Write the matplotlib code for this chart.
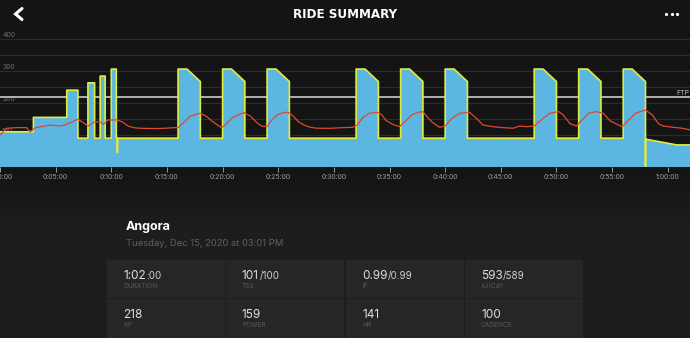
import numpy as np
import matplotlib
matplotlib.use('Agg')
import matplotlib.pyplot as plt
from matplotlib.lines import Line2D
from matplotlib.patches import Rectangle
from matplotlib.text import Annotation

plt.rcParams['font.family'] = ['Inter', 'DejaVu Sans']

# power trace: minutes / watts
power_t = [0, 3, 3, 6, 6, 7, 7, 7.9, 7.9, 8.5, 8.5, 9.0, 9.0, 9.45, 9.45, 10.0, 10.0, 10.45,
           10.45, 10.55, 10.55, 10.55, 16, 16, 16.8, 18, 18, 20, 20, 20.8, 22, 22, 24, 24,
           24.8, 26, 26, 32, 32, 32.8, 34, 34, 36, 36, 36.8, 38, 38, 40, 40, 40.8, 42, 42,
           48, 48, 48.8, 50, 50, 52, 52, 52.8, 54, 54, 56, 56, 56.8, 58, 58, 58, 60.8, 62]
power_w = [110, 110, 155, 155, 240, 240, 90, 90, 263, 263, 90, 90, 284, 284, 90, 90, 306, 306,
           90, 90, 45, 90, 90, 306, 306, 267, 90, 90, 306, 306, 267, 90, 90, 306,
           306, 267, 90, 90, 306, 306, 267, 90, 90, 306, 306, 267, 90, 90, 306, 306, 267, 90,
           90, 306, 306, 267, 90, 90, 306, 306, 267, 90, 90, 306, 306, 267, 0, 87, 69, 69]

# heart rate trace
hr_t = [0, 0.6, 1.5, 2.4, 2.7, 3.2, 4.5, 5.4, 5.8, 7.0, 7.6, 7.9, 8.5, 9.0, 9.3, 9.7, 10.5,
        11.0, 11.5, 12.0, 12.6, 13.9, 14.8, 15.7, 16.0, 16.6, 17.1, 18.0, 18.6, 19.1, 19.9,
        20.2, 20.9, 21.9, 22.5, 23.1, 23.5, 24.0, 24.3, 24.9, 25.5, 25.9, 26.4, 26.8, 27.3,
        27.9, 28.5, 29.7, 30.8, 31.7, 32.1, 32.6, 33.2, 33.9, 34.3, 34.7, 35.3, 35.9, 36.4,
        37.0, 37.6, 38.0, 38.5, 38.9, 39.5, 40.0, 40.6, 41.3, 42.2, 42.8, 43.4, 44.3, 45.2,
        46.1, 46.7, 47.3, 48.0, 48.7, 49.4, 50.2, 50.6, 51.2, 51.8, 52.3, 52.9, 53.6, 54.2,
        54.8, 55.4, 55.9, 56.5, 57.1, 58.0, 58.6, 59.2, 59.6, 60.5, 61.3, 62.0]
hr_bpm = [100, 121, 123, 123, 110, 123, 131, 128, 131, 149, 136, 128, 141, 141, 133, 147, 147,
          141, 128, 123, 121, 120, 121, 123, 123, 142, 159, 168, 157, 142, 123,
          130, 155, 170, 159, 138, 128, 126, 142, 163, 170, 171, 157, 142, 131,
          124, 121, 121, 123, 124, 131, 155, 168, 171, 163, 145, 133, 126, 142,
          163, 171, 173, 152, 138, 124, 128, 152, 168, 171, 152, 131, 126, 123,
          121, 128, 126, 128, 149, 168, 173, 163, 136, 128, 147, 168, 173, 168,
          145, 134, 126, 147, 168, 178, 163, 134, 128, 124, 121, 116]

ftp = 220
grid_w = [50, 100, 150, 200, 250, 300, 350, 400]
ylab_w = [100, 200, 300, 400]
xtick_min = [0, 5, 10, 15, 20, 25, 30, 35, 40, 45, 50, 55, 60]
xtick_lbl = ['0:00:00', '0:05:00', '0:10:00', '0:15:00', '0:20:00', '0:25:00', '0:30:00',
             '0:35:00', '0:40:00', '0:45:00', '0:50:00', '0:55:00', '1:00:00']

ride_name = 'Angora'
ride_date = 'Tuesday, Dec 15, 2020 at 03:01 PM'
stat_main = [['1:02', '101', '0.99', '593'], ['218', '159', '141', '100']]
stat_sub = [[':00', '/100', '/0.99', '/589'], ['', '', '', '']]
stat_lbl = [['DURATION', 'TSS', 'IF', 'kJ(Cal)'], ['NP', 'POWER', 'HR', 'CADENCE']]

W, H = 690, 338
fig = plt.figure(figsize=(W / 100, H / 100), dpi=100)
fig.patch.set_facecolor('#1c1c1c')

def fx(x):
    return x / W

def fy(y):
    return 1 - y / H

# background: dark top fading into the lighter lower panel
bg = fig.add_axes([0, 0, 1, 1], zorder=-10)
rows = np.arange(H)
shade = np.clip((rows - 168) / 60.0, 0, 1)
top = np.array([0x14, 0x14, 0x14]) / 255
bot = np.array([0x1d, 0x1d, 0x1d]) / 255
grad = top[None, :] * (1 - shade[:, None]) + bot[None, :] * shade[:, None]
bg.imshow(grad[:, None, :], extent=[0, 1, 0, 1], aspect='auto')
bg.axis('off')

# header
fig.add_artist(Line2D([fx(22), fx(15.5), fx(22)], [fy(8.5), fy(14), fy(19.5)],
                      color='white', lw=2.2, solid_capstyle='round', solid_joinstyle='miter'))
fig.text(fx(345), fy(14), 'RIDE SUMMARY', ha='center', va='center', color='white',
         fontsize=9.5, fontweight='bold', fontstretch='condensed',
         family=['Liberation Sans Narrow', 'DejaVu Sans'])
fig.add_artist(Line2D([fx(666), fx(671.5), fx(677)], [fy(14)] * 3, ls='none', marker='o',
                      ms=2.3, color='white', mec='none'))

# chart
ax = fig.add_axes([0, 1 - 167 / H, 1, (167 - 30) / H])
ax.set_facecolor('none')
ax.set_xlim(0, 62)
ax.set_ylim(0, 428)
for g in grid_w:
    ax.axhline(g, color='#2b2b2b', lw=0.8, zorder=1)
for v in ylab_w:
    ax.text(0.2, v + 2, str(v), ha='left', va='bottom', fontsize=5, color='#6c6c6c', zorder=1)
ax.axhline(ftp, color='#bdbdbd', lw=1.3, zorder=2)
ax.text(61.9, ftp + 3, 'FTP', ha='right', va='bottom', fontsize=5, color='#bdbdbd', zorder=2)
ax.fill_between(power_t, power_w, 0, color='#5cb6e2', lw=0, zorder=3)
ax.plot(power_t, power_w, color='#e2ec3a', lw=1.2, zorder=4)
ax.plot(hr_t, hr_bpm, color='#dd4a2c', lw=0.9, zorder=5)

ax.set_xticks(xtick_min)
ax.set_xticklabels(xtick_lbl)
ax.set_yticks([])
ax.tick_params(axis='x', length=3.5, width=0.7, color='#9a9a9a', pad=1.5,
               labelsize=5, labelcolor='#9c9c9c')
for s in ax.spines.values():
    s.set_visible(False)

# ride info
fig.text(fx(126), fy(227), ride_name, ha='left', va='center', color='white',
         fontsize=9, fontweight='bold')
fig.text(fx(126), fy(243), ride_date, ha='left', va='center', color='#5e5e5e', fontsize=6.8)

# stats table
col_left = [107, 226, 346, 465]
row_top = [260, 299]
row_h = [38, 45]
for r in range(2):
    for c in range(4):
        fig.add_artist(Rectangle((fx(col_left[c]), fy(row_top[r] + row_h[r])),
                                 118 / W, row_h[r] / H, transform=fig.transFigure,
                                 facecolor='#262626', edgecolor='none', zorder=1))
        x0 = fx(col_left[c] + 16)
        t = fig.text(x0, fy(row_top[r] + 19), stat_main[r][c], ha='left', va='baseline',
                     color='#dedede', fontsize=8.5, zorder=2)
        if stat_sub[r][c]:
            fig.add_artist(Annotation(stat_sub[r][c], xy=(1, 0), xycoords=t,
                                      xytext=(0.3, 0.45), textcoords='offset points',
                                      ha='left', va='bottom', color='#cfcfcf',
                                      fontsize=7, zorder=2))
        fig.text(x0, fy(row_top[r] + 26), stat_lbl[r][c], ha='left', va='center',
                 color='#5a5a5a', fontsize=4.7, zorder=2)

fig.savefig('out.png', dpi=100, facecolor=fig.get_facecolor())
